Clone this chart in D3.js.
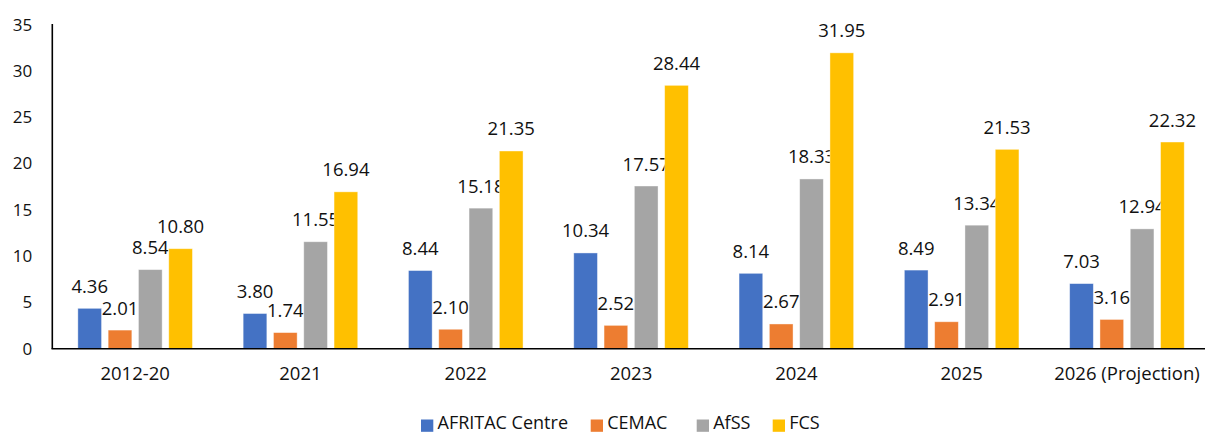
<!DOCTYPE html>
<html><head><meta charset="utf-8">
<script src="https://cdn.jsdelivr.net/npm/d3@7"></script>
<style>body{margin:0;background:#fff}svg{display:block}</style>
</head><body>
<svg id="c" width="1205" height="435"></svg>
<script>
const categories = ["2012-20","2021","2022","2023","2024","2025","2026 (Projection)"];
const seriesNames = ["AFRITAC Centre","CEMAC","AfSS","FCS"];
const afritac = [4.36,3.80,8.44,10.34,8.14,8.49,7.03];
const cemac = [2.01,1.74,2.10,2.52,2.67,2.91,3.16];
const afss = [8.54,11.55,15.18,17.57,18.33,13.34,12.94];
const fcs = [10.80,16.94,21.35,28.44,31.95,21.53,22.32];
const yTicks = [0,5,10,15,20,25,30,35];
const colors = ["#4472C4","#ED7D31","#A5A5A5","#FFC000"];
const seriesValues = [afritac, cemac, afss, fcs];

const svg = d3.select("#c");
const font = "'Open Sans', sans-serif";
const x = d3.scaleBand().domain(categories).range([52.5, 52.5 + 7*165.3]).padding(0);
const y = d3.scaleLinear().domain([0,35]).range([348.7, 24.6]);
const bw = x.bandwidth();
const inner = d3.scaleBand().domain(seriesNames).range([bw/2 - 60.6, bw/2 + 60.6]).paddingInner(0.218).paddingOuter(0.109);

// bars
seriesNames.forEach((s, si) => {
  const g = svg.append("g");
  g.selectAll("rect").data(categories).join("rect")
    .attr("x", c => x(c) + inner(s))
    .attr("y", (c,i) => y(seriesValues[si][i]))
    .attr("width", inner.bandwidth())
    .attr("height", (c,i) => y(0) - y(seriesValues[si][i]))
    .attr("fill", colors[si])
    .attr("stroke", "#ffffff").attr("stroke-opacity", 0.5).attr("stroke-width", 0.8);
  g.selectAll("text").data(categories).join("text")
    .attr("x", c => x(c) + inner(s) + inner.bandwidth()/2)
    .attr("y", (c,i) => y(seriesValues[si][i]) - 23)
    .attr("text-anchor", "middle").attr("dominant-baseline", "central")
    .attr("font-family", font).attr("font-size", "18.5px").attr("fill", "#111")
    .text((c,i) => seriesValues[si][i].toFixed(2));
});

// y axis
const ya = svg.append("g").attr("transform", "translate(52.3,0)")
  .call(d3.axisLeft(y).tickValues(yTicks).tickSize(0).tickPadding(20).tickFormat(d3.format("d")));
ya.select(".domain").attr("stroke", "#000").attr("stroke-width", 1.6).attr("d", `M0,${y(35)-0.5}V${y(0)}`);
ya.selectAll("text").attr("font-family", font).attr("font-size", "17px").attr("fill", "#111");

// x axis
const xa = svg.append("g").attr("transform", `translate(0,${y(0)})`)
  .call(d3.axisBottom(x).tickSize(0).tickPadding(18));
xa.select(".domain").attr("stroke", "#000").attr("stroke-width", 1.6).attr("d", "M51.5,0H1205");
xa.selectAll("text").attr("font-family", font).attr("font-size", "18.5px").attr("fill", "#111");

// legend
const legendX = [421, 590.7, 696.7, 772.7];
const lg = svg.append("g");
seriesNames.forEach((s, i) => {
  lg.append("rect").attr("x", legendX[i]).attr("y", 419.5).attr("width", 12.3).attr("height", 12.3).attr("fill", colors[i]);
  lg.append("text").attr("x", legendX[i] + 16.5).attr("y", 429.3)
    .attr("font-family", font).attr("font-size", "18px").attr("fill", "#111").text(s);
});
</script>
</body></html>
